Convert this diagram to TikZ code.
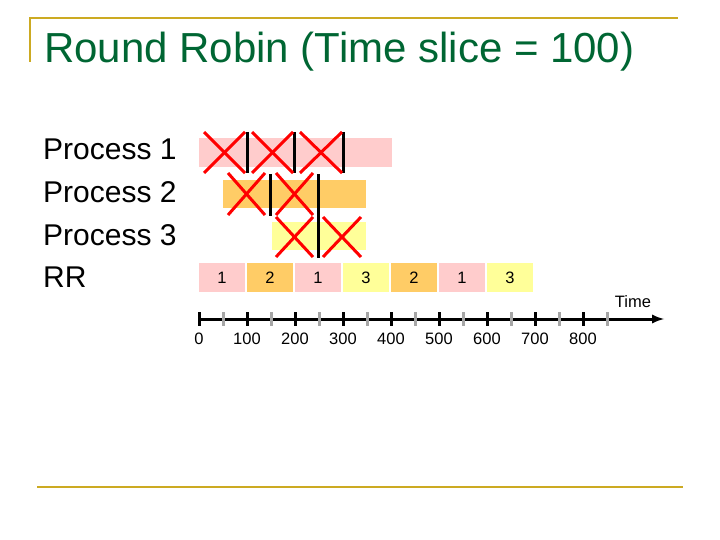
\documentclass[tikz,border=0pt]{standalone}
\usepackage{fontspec}
\setmainfont{Liberation Sans}
\begin{document}
\begin{tikzpicture}[x=1pt,y=-1pt,
  gold/.style={draw={rgb,255:red,204;green,170;blue,34},line width=2.2pt},
  lab/.style={font=\fontsize{30}{32}\selectfont,anchor=west,inner sep=0pt},
  num/.style={font=\fontsize{16.5}{18}\selectfont},
  cross/.style={draw=red,line width=3pt},
  sep/.style={draw=black,line width=3pt},
  tick/.style={line width=3pt}]
\definecolor{pink}{RGB}{255,204,204}
\definecolor{orng}{RGB}{255,204,102}
\definecolor{yel}{RGB}{255,255,153}
\definecolor{ttl}{RGB}{0,102,51}
\useasboundingbox (0,0) rectangle (720,540);
\coordinate (g1) at (30,62); \coordinate (g2) at (30,18); \coordinate (g3) at (678,18);
\draw[gold] (g1) -- (g2) -- (g3);
\coordinate (b1) at (37,487); \coordinate (b2) at (683,487);
\draw[gold] (b1) -- (b2);
\node[anchor=west,inner sep=0pt,text=ttl,font=\fontsize{42}{46}\selectfont] (title) at (44,52) {Round Robin (Time slice = 100)};
\node[lab] (l1) at (43,149) {Process 1};
\node[lab] (l2) at (43,192) {Process 2};
\node[lab] (l3) at (43,235) {Process 3};
\node[lab] (l4) at (43,277) {RR};
% bars
\fill[pink] (199,138) rectangle (392,167);
\fill[orng] (223,180) rectangle (366,208);
\fill[yel] (272,222) rectangle (366,250);
% RR
\foreach \i/\c/\t in {0/pink/1,1/orng/2,2/pink/1,3/yel/3,4/orng/2,5/pink/1,6/yel/3}{
  \fill[\c] (199+48*\i,263) rectangle (245+48*\i,292);
  \node[num] (rr\i) at (222+48*\i,278) {\t};
}
% separators
\draw[sep] (247,132) -- (247,173);
\draw[sep] (294,132) -- (294,173);
\draw[sep] (343,132) -- (343,173);
\draw[sep] (270,174) -- (270,216);
\draw[sep] (318,174) -- (318,258);
% crosses
\foreach \a/\b/\c/\d in {204/245/132/173, 252/293/132/173, 300/342/132/173, 228/265/173/215, 276/313/173/215, 276/313/217/257, 323/361/217/257}{
  \draw[cross] (\a,\c) -- (\b,\d);
  \draw[cross] (\a,\d) -- (\b,\c);
}
% axis
\coordinate (a0) at (199,319); \coordinate (a1) at (664,319);
\draw[line width=3pt,-latex] (a0) -- (a1);
\foreach \k in {0,...,8}{
  \draw[tick] (199+48*\k,312) -- (199+48*\k,326);
  \node[num] (t\k) at (199+48*\k,339) {\pgfmathparse{int(100*\k)}\pgfmathresult};
}
\foreach \k in {0,...,8}{
  \draw[tick,gray!70] (223+48*\k,312) -- (223+48*\k,326);
}
\node[num] (time) at (633,302) {Time};
\end{tikzpicture}
\end{document}
